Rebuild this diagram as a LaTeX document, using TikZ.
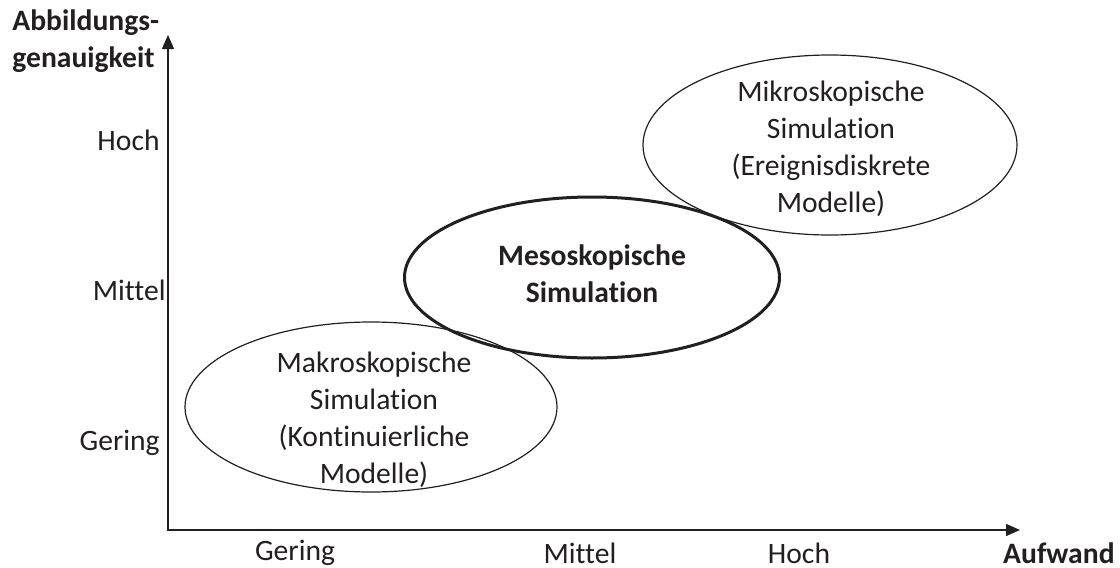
\documentclass[tikz,border=0pt]{standalone}
\usepackage{fontspec}
\setmainfont{Carlito}[Ligatures=CommonOff]
\usetikzlibrary{shapes.geometric,arrows.meta}
\definecolor{ink}{RGB}{35,31,32}
\begin{document}
\begin{tikzpicture}[x=0.5pt,y=-0.5pt,
  lbl/.style={font=\fontsize{14.8pt}{18.5pt}\selectfont, text=ink, inner sep=0pt},
  boldlbl/.style={lbl, font=\fontsize{14.8pt}{18.5pt}\selectfont\bfseries},
  region/.style={draw=ink, ellipse, inner sep=0pt, line width=0.6pt},
  focus/.style={draw=ink, ellipse, inner sep=0pt, line width=1.5pt},
  axis/.style={draw=ink, line width=0.75pt, {Triangle[length=7pt,width=6pt]}-{Triangle[length=7pt,width=6pt]}}]
  \useasboundingbox (0,0) rectangle (1120,568);

  % axes
  \coordinate (origin) at (168,530);
  \coordinate (ytip) at (168,35);
  \coordinate (xtip) at (1020,530);
  \draw[axis] (ytip) -- (origin) -- (xtip);

  % axis titles
  \node[boldlbl, anchor=west, align=left] (ytitle) at (12,41.5) {Abbildungs-\\genauigkeit};
  \node[boldlbl, anchor=east] (xtitle) at (1115,553) {Aufwand};

  % y tick labels
  \node[lbl, anchor=east] (yhigh) at (160,140) {Hoch};
  \node[lbl, anchor=east] (ymid) at (166,290) {Mittel};
  \node[lbl, anchor=east] (ylow) at (160,443) {Gering};

  % x tick labels
  \node[lbl] (xlow) at (295,553) {Gering};
  \node[lbl] (xmid) at (580,553) {Mittel};
  \node[lbl] (xhigh) at (799,553) {Hoch};

  % simulation regions
  \node[region, minimum width=186pt, minimum height=85pt] (makro) at (371,407) {};
  \node[region, minimum width=187pt, minimum height=90pt] (mikro) at (830,145) {};
  \node[focus, minimum width=187.5pt, minimum height=80.5pt] (meso) at (592,277.5) {};

  \node[lbl, align=center] (makrotext) at (374,419.5) {Makroskopische\\Simulation\\(Kontinuierliche\\Modelle)};
  \node[lbl, align=center] (mikrotext) at (831,149) {Mikroskopische\\Simulation\\(Ereignisdiskrete\\Modelle)};
  \node[boldlbl, align=center] (mesotext) at (592,273.5) {Mesoskopische\\Simulation};
\end{tikzpicture}
\end{document}
